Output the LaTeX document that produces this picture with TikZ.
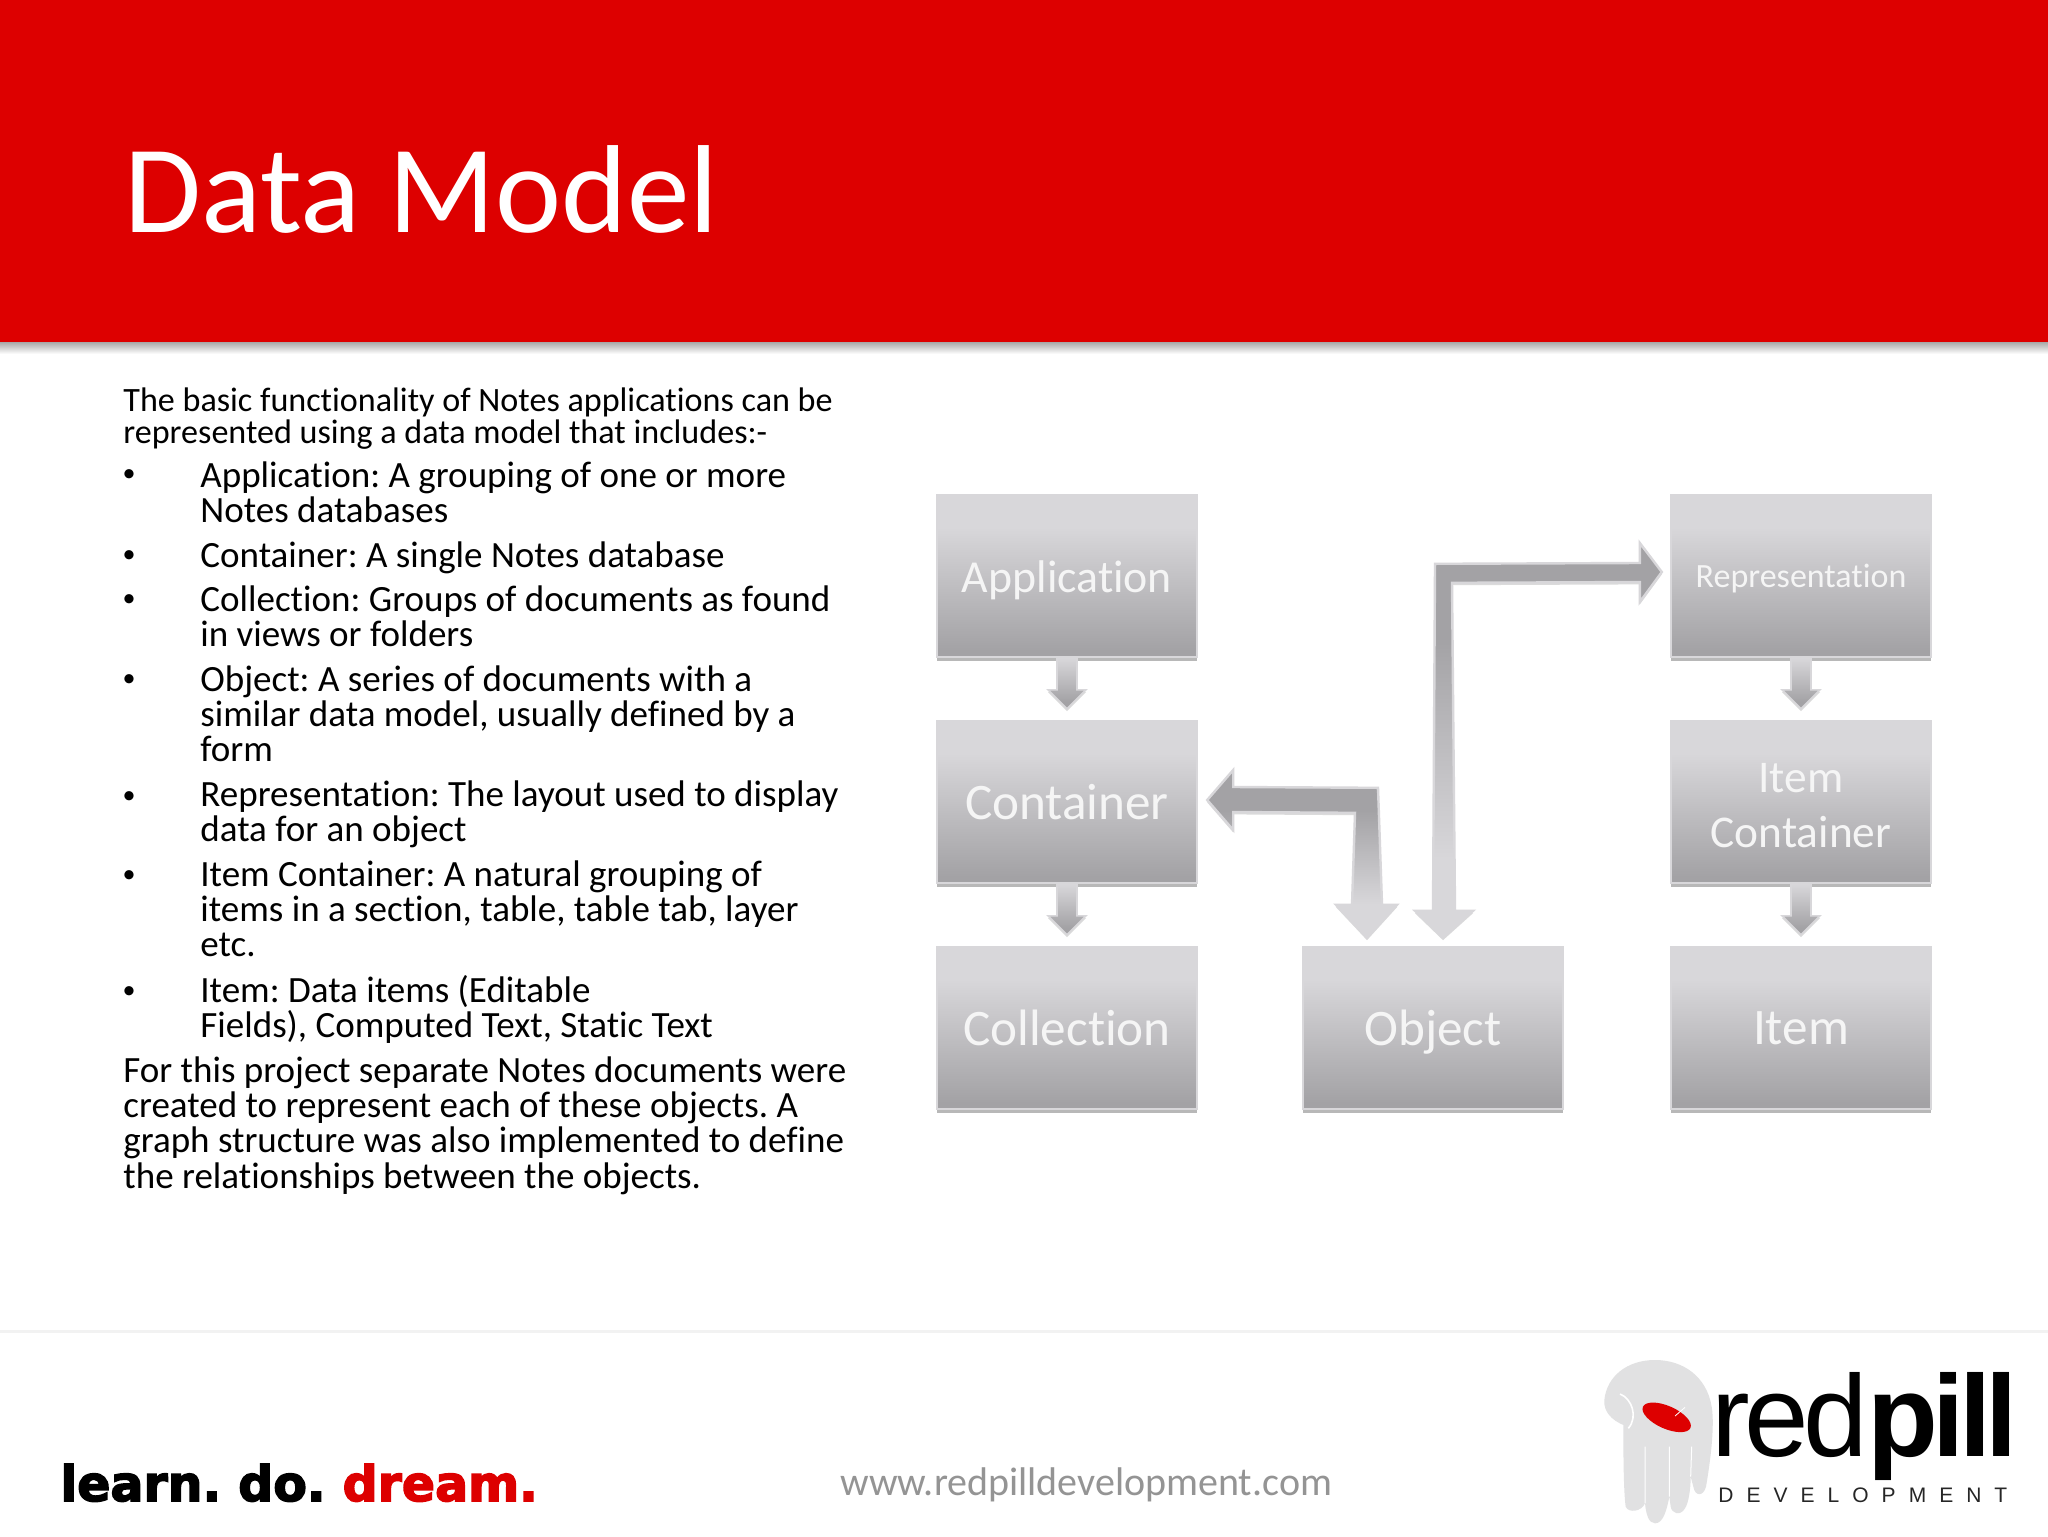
\documentclass[tikz,border=0pt]{standalone}
\usepackage{fontspec}
\setmainfont[Ligatures=NoCommon]{Carlito}
\newfontfamily\sloganfont[FakeBold=3]{DejaVu Sans Bold}
\newfontfamily\logofont{Liberation Sans}
\newfontfamily\logoboldfont{Liberation Sans Bold}
\usetikzlibrary{calc,shadows}
\definecolor{headred}{HTML}{DD0000}
\definecolor{boxlight}{HTML}{D8D7DA}
\definecolor{boxdark}{HTML}{A3A2A5}
\definecolor{handgray}{HTML}{E1E1E2}
\pgfdeclareverticalshading{boxshade}{100bp}{color(0bp)=(boxdark); color(27bp)=(boxdark); color(65bp)=(boxlight); color(100bp)=(boxlight)}
\pgfdeclareverticalshading{elbowshade}{100bp}{color(0bp)=(boxlight); color(35bp)=(boxlight); color(63bp)=(boxdark); color(100bp)=(boxdark)}
\pgfdeclareverticalshading{dropshade}{100bp}{color(0bp)=(boxdark); color(32bp)=(boxdark); color(75bp)=(boxlight); color(100bp)=(boxlight)}
\tikzset{
	softedge/.style={general shadow={fill=black!28, shadow xshift=0pt, shadow yshift=-2pt}},
	boxnode/.style={shading=boxshade, draw=boxlight, line width=1.2pt, softedge, minimum width=130pt, minimum height=81pt, inner sep=2pt, text=white!96!black, align=center, font=\fontsize{25.6}{27.5}\selectfont},
	oneline/.style={text height=21.5pt, text depth=4pt},
	elbow/.style={shading=elbowshade, draw=boxlight, line width=1.2pt, general shadow={fill=black!14, shadow xshift=0pt, shadow yshift=-1.2pt}},
	drop/.style={elbow, shading=dropshade, line width=0.8pt},
	bodytext/.style={anchor=north west, inner sep=0pt, align=left, text=black, font=\fontsize{18.52}{17.7}\selectfont},
	paratext/.style={bodytext, font=\fontsize{17.05}{16.3}\selectfont},
	dotnode/.style={inner sep=0pt, font=\fontsize{13}{14}\selectfont}
}
% small block arrow from one box down to the next
\def\blockdown(#1)(#2){\shade[drop] ($(#1.south)+(-10,0)$) -- ($(#2.north)+(-10,-30)$) -- ($(#2.north)+(-19,-30)$) -- ($(#2.north)+(0,-11)$) -- ($(#2.north)+(19,-30)$) -- ($(#2.north)+(10,-30)$) -- ($(#1.south)+(10,0)$) -- cycle;}

\begin{document}
\frenchspacing
\begin{tikzpicture}[x=0.5pt,y=-0.5pt]
		\useasboundingbox (0,0) rectangle (2048,1536);
		\fill[white] (0,0) rectangle (2048,1536);
		
		%%%%% HEADER %%%%%
		\shade[top color=black!34, bottom color=white] (0,342) rectangle (2048,354);
		\fill[headred] (0,0) rectangle (2048,342);
		\node[anchor=base west, inner sep=0pt, text=white, font=\fontsize{62.6}{70}\selectfont] (title) at (124,232) {Data Model};
		
		%%%%% LEFT TEXT %%%%%
		\node[paratext] (intro) at (123,387) {The basic functionality of Notes applications can be\\represented using a data model that includes:-};
		\foreach \n/\y in {1/476, 2/557, 3/601, 4/681, 5/798, 6/877, 7/993}
			\node[dotnode] (dot\n) at (129,\y) {•};
		\node[bodytext] (item1) at (200,461) {Application: A grouping of one or more\\Notes databases};
		\node[bodytext] (item2) at (200,541) {Container: A single Notes database};
		\node[bodytext] (item3) at (200,585) {Collection: Groups of documents as found\\in views or folders};
		\node[bodytext] (item4) at (200,665) {Object: A series of documents with a\\similar data model, usually defined by a\\form};
		\node[bodytext] (item5) at (200,780) {Representation: The layout used to display\\data for an object};
		\node[bodytext] (item6) at (200,860) {Item Container: A natural grouping of\\items in a section, table, table tab, layer\\etc.};
		\node[bodytext] (item7) at (200,975) {Item: Data items (Editable\\Fields), Computed Text, Static Text};
		\node[bodytext] (closing) at (123,1056) {For this project separate Notes documents were\\created to represent each of these objects. A\\graph structure was also implemented to define\\the relationships between the objects.};
		
		%%%%% BOXES %%%%%
		\node[boxnode, oneline, text height=20pt, font=\fontsize{22.9}{27.5}\selectfont] (application) at (1067,576) {Application};
		\node[boxnode, oneline] (container) at (1067,802) {Container};
		\node[boxnode, oneline] (collection) at (1067,1028) {Collection};
		\node[boxnode, oneline] (object) at (1433,1028) {Object};
		\node[boxnode, oneline, text height=15.5pt, font=\fontsize{17}{18}\selectfont] (representation) at (1801,576) {Representation};
		\node[boxnode, font=\fontsize{22.7}{27.5}\selectfont] (itemcontainer) at (1801,802) {\rule{0pt}{18pt}Item\\Container};
		\node[boxnode, oneline, text height=20pt] (item) at (1801,1028) {Item};
		
		\blockdown(application)(container)
		\blockdown(container)(collection)
		\blockdown(representation)(itemcontainer)
		\blockdown(itemcontainer)(item)
		
		\coordinate (backtip) at ($(container.east)+(9,-2)$);
		\coordinate (backfoot) at ($(object.north)+(-66,-8)$);
		\shade[elbow] (backtip) -- ($(backtip)+(26,-30)$) -- ($(backtip)+(26,-13)$) -- ($(backfoot)+(11,-150)$) -- ($(backfoot)+(15,-33)$) -- ($(backfoot)+(30,-33)$) -- (backfoot) -- ($(backfoot)+(-31,-33)$) -- ($(backfoot)+(-15,-33)$) -- ($(backfoot)+(-12,-125)$) -- ($(backtip)+(26,12)$) -- ($(backtip)+(26,30)$) -- cycle;
		
		\coordinate (uptip) at ($(representation.west)+(-8,-4)$);
		\coordinate (upfoot) at ($(object.north)+(10,-8)$);
		\shade[elbow] (upfoot) -- ($(upfoot)+(30,-27)$) -- ($(upfoot)+(12,-27)$) -- ($(upfoot)+(9,-355)$) -- ($(uptip)+(-22,10)$) -- ($(uptip)+(-22,30)$) -- (uptip) -- ($(uptip)+(-22,-29)$) -- ($(uptip)+(-22,-9)$) -- ($(upfoot)+(-8,-374)$) -- ($(upfoot)+(-10,-27)$) -- ($(upfoot)+(-28,-27)$) -- cycle;
		
		%%%%% FOOTER %%%%%
		\fill[black!5] (0,1330) rectangle (2048,1333);
		\node[anchor=base west, inner sep=0pt, font=\sloganfont\fontsize{24.5}{30}\selectfont] (slogan) at (60,1501) {learn. do. \textcolor{headred}{dream.}};
		\node[anchor=base west, inner sep=0pt, text=black!42, font=\fontsize{20}{24}\selectfont] (website) at (840,1495) {www.redpilldevelopment.com};
		
		%%%%% LOGO %%%%%
		\begin{scope}[shift={(1560,1330)},scale=1/3]
			\fill[handgray] (285,90) .. controls (370,90) and (440,140) .. (455,230) .. controls (465,290) and (450,400) .. (438,470) .. controls (430,500) and (405,500) .. (400,470) -- (392,440) .. controls (392,480) and (385,520) .. (375,535) .. controls (360,560) and (335,550) .. (332,530) -- (328,500) .. controls (320,540) and (310,580) .. (285,580) .. controls (265,580) and (258,550) .. (255,520) .. controls (245,545) and (205,550) .. (197,530) .. controls (190,480) and (190,350) .. (190,285) .. controls (155,270) and (130,245) .. (133,210) .. controls (140,140) and (200,90) .. (285,90) -- cycle;
			\draw[white, line width=0.5pt] (255,350) -- (255,520) (328,350) -- (328,500) (395,350) -- (392,440);
			\draw[white, line width=0.8pt] (180,192) .. controls (215,205) and (235,260) .. (205,295);
			\fill[headred, rotate around={-24:(320,262)}] (320,262) ellipse (78 and 34);
			\draw[white, line width=0.4pt] (345,258) -- (375,232);
		\end{scope}
		\node[anchor=base west, inner sep=0pt, text=black, font=\fontsize{58}{60}\selectfont] (logoword) at (1711,1456) {{\logofont\addfontfeature{LetterSpace=-5}red}{\logoboldfont\addfontfeature{LetterSpace=-5}pill}};
		\node[anchor=base west, inner sep=0pt, text=black!85, font=\logofont\fontsize{10.5}{12}\selectfont\addfontfeature{LetterSpace=62}] (logosub) at (1718,1502) {DEVELOPMENT};
		
		%%%%% END %%%%%
	\end{tikzpicture}
\end{document}
